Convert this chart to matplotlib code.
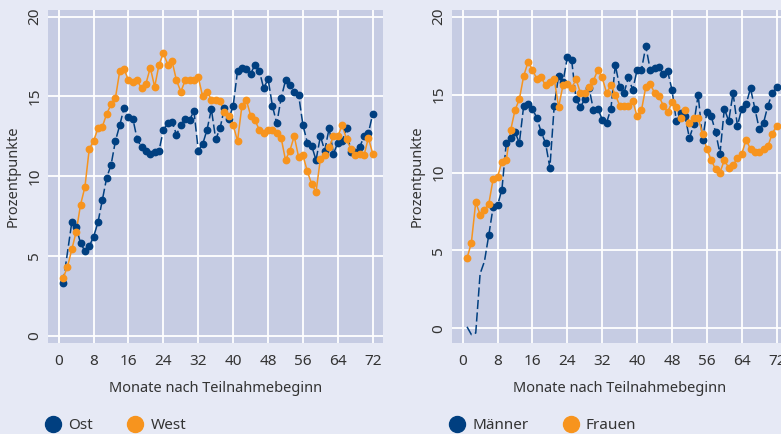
import numpy as np
import matplotlib.pyplot as plt
from matplotlib.lines import Line2D

# ============================================================
# Daten
# ============================================================
monate = list(range(1, 73))

ost = [3.3, 5.2, 7.1, 6.8, 5.8, 5.3, 5.6, 6.2, 7.1, 8.5, 9.9, 10.7,
       12.2, 13.2, 14.3, 13.7, 13.6, 12.3, 11.8, 11.6, 11.4, 11.5, 11.6, 12.9,
       13.3, 13.4, 12.6, 13.2, 13.6, 13.5, 14.1, 11.6, 12.0, 12.9, 14.2, 12.3,
       13.0, 14.3, 13.6, 14.4, 16.6, 16.8, 16.7, 16.4, 17.0, 16.6, 15.5, 16.1,
       14.4, 13.3, 14.9, 16.0, 15.7, 15.3, 15.1, 13.2, 12.1, 11.9, 11.0, 12.5,
       11.6, 13.0, 11.4, 12.1, 12.2, 13.0, 11.5, 11.5, 11.8, 12.5, 12.7, 13.9]
west = [3.6, 4.3, 5.4, 6.5, 8.2, 9.3, 11.7, 12.2, 13.0, 13.1, 13.9, 14.5,
        14.9, 16.6, 16.7, 16.0, 15.9, 16.0, 15.5, 15.8, 16.8, 15.6, 17.0, 17.7,
        17.0, 17.2, 16.0, 15.3, 16.0, 16.0, 16.0, 16.2, 15.0, 15.3, 14.8, 14.8,
        14.7, 14.0, 13.8, 13.2, 12.2, 14.4, 14.8, 13.8, 13.5, 12.9, 12.7, 12.9,
        12.9, 12.7, 12.4, 11.0, 11.6, 12.5, 11.2, 11.3, 10.3, 9.5, 9.0, 11.1,
        11.3, 11.8, 12.5, 12.5, 13.2, 12.3, 11.7, 11.3, 11.4, 11.3, 12.4, 11.4]
ost_ohne_marker = [2]
west_ohne_marker = []

maenner = [0.1, -0.4, -0.3, 3.5, 4.3, 6.0, 7.8, 7.9, 8.9, 11.9, 12.2, 12.6,
           11.9, 14.3, 14.4, 14.1, 13.5, 12.6, 11.9, 10.3, 14.3, 16.2, 15.8, 17.4,
           17.2, 14.7, 14.2, 14.7, 15.4, 14.0, 14.1, 13.4, 13.2, 14.1, 16.9, 15.5,
           15.1, 16.1, 15.3, 16.6, 16.6, 18.1, 16.6, 16.7, 16.8, 16.3, 16.5, 15.3,
           13.3, 13.8, 13.6, 12.2, 13.1, 15.0, 12.1, 13.9, 13.6, 12.6, 11.2, 14.1,
           13.3, 15.1, 13.0, 14.1, 14.4, 15.4, 14.1, 12.8, 13.2, 14.3, 15.1, 15.5]
frauen = [4.5, 5.5, 8.1, 7.3, 7.6, 8.0, 9.6, 9.7, 10.7, 10.8, 12.7, 14.0,
          14.7, 16.2, 17.1, 16.6, 16.0, 16.1, 15.6, 15.8, 16.0, 14.2, 15.6, 15.7,
          15.4, 16.0, 15.1, 15.1, 15.5, 15.9, 16.6, 16.1, 15.1, 15.6, 15.0, 14.3,
          14.3, 14.3, 14.6, 13.6, 14.0, 15.5, 15.7, 15.1, 14.9, 14.3, 13.9, 14.5,
          14.2, 13.5, 14.0, 13.2, 13.5, 13.5, 12.5, 11.5, 10.8, 10.2, 10.0, 10.8,
          10.3, 10.5, 10.9, 11.2, 12.1, 11.5, 11.3, 11.3, 11.5, 11.7, 12.5, 13.0]
maenner_ohne_marker = [1, 2, 3, 4, 5]
frauen_ohne_marker = []

panels = [
    (("Ost", ost, ost_ohne_marker), ("West", west, west_ohne_marker)),
    (("Männer", maenner, maenner_ohne_marker), ("Frauen", frauen, frauen_ohne_marker)),
]

x_ticks = [0, 8, 16, 24, 32, 40, 48, 56, 64, 72]
y_ticks = [0, 5, 10, 15, 20]

# ============================================================
# Stil
# ============================================================
plt.rcParams['font.family'] = ['Noto Sans', 'DejaVu Sans']
BG_FIG = '#E6E9F5'
BG_AX = '#C6CCE3'
BLAU = '#003F80'
ORANGE = '#F7941E'
TXT = '#333333'
FS = 10.5

fig = plt.figure(figsize=(7.81, 4.34), dpi=100, facecolor=BG_FIG)
ax_pos = [[0.0615, 0.2104, 0.4286, 0.7666],
          [0.5787, 0.2104, 0.4286, 0.7666]]
y_lims = [(-0.45, 20.42), (-0.92, 20.43)]


def plot_series(ax, x, y, ohne, color, dashed):
    x = np.array(x)
    y = np.array(y)
    if dashed:
        ax.plot(x, y, color=color, lw=1.1, dashes=(6, 2.2), zorder=3)
    else:
        ax.plot(x, y, color=color, lw=1.1, zorder=3)
    mask = ~np.isin(x, ohne)
    ax.plot(x[mask], y[mask], 'o', color=color, ms=4.6, zorder=4)


for i, (s1, s2) in enumerate(panels):
    ax = fig.add_axes(ax_pos[i])
    ax.set_facecolor(BG_AX)
    for sp in ax.spines.values():
        sp.set_visible(False)

    plot_series(ax, monate, s1[1], s1[2], BLAU, True)
    plot_series(ax, monate, s2[1], s2[2], ORANGE, False)

    ax.set_xlim(-2.45, 74.3)
    ax.set_ylim(*y_lims[i])
    ax.set_xticks(x_ticks)
    ax.set_yticks(y_ticks)
    ax.grid(True, color='white', lw=1.3)
    ax.set_axisbelow(True)
    ax.tick_params(axis='both', length=0, labelsize=FS + 0.5, colors=TXT)
    ax.tick_params(axis='x', pad=8)
    ax.tick_params(axis='y', pad=4)
    for lab in ax.get_yticklabels():
        lab.set_rotation(90)
        lab.set_va('center')

    ax.set_xlabel("Monate nach Teilnahmebeginn", fontsize=FS, color=TXT, labelpad=9)
    ax.set_ylabel("Prozentpunkte", fontsize=FS, color=TXT)
    ax.yaxis.set_label_coords(-0.082, 0.5)

    handles = [Line2D([], [], marker='o', ls='', color=BLAU, ms=11.5),
               Line2D([], [], marker='o', ls='', color=ORANGE, ms=11.5)]
    leg = ax.legend(handles, [s1[0], s2[0]], loc='upper left',
                    bbox_to_anchor=(-0.005, -0.226), ncol=2, frameon=False,
                    fontsize=FS + 0.5, handlelength=0.9, handletextpad=0.55,
                    columnspacing=2.3, borderaxespad=0, borderpad=0)
    for t in leg.get_texts():
        t.set_color(TXT)

fig.savefig("out.png", dpi=100, facecolor=BG_FIG)
